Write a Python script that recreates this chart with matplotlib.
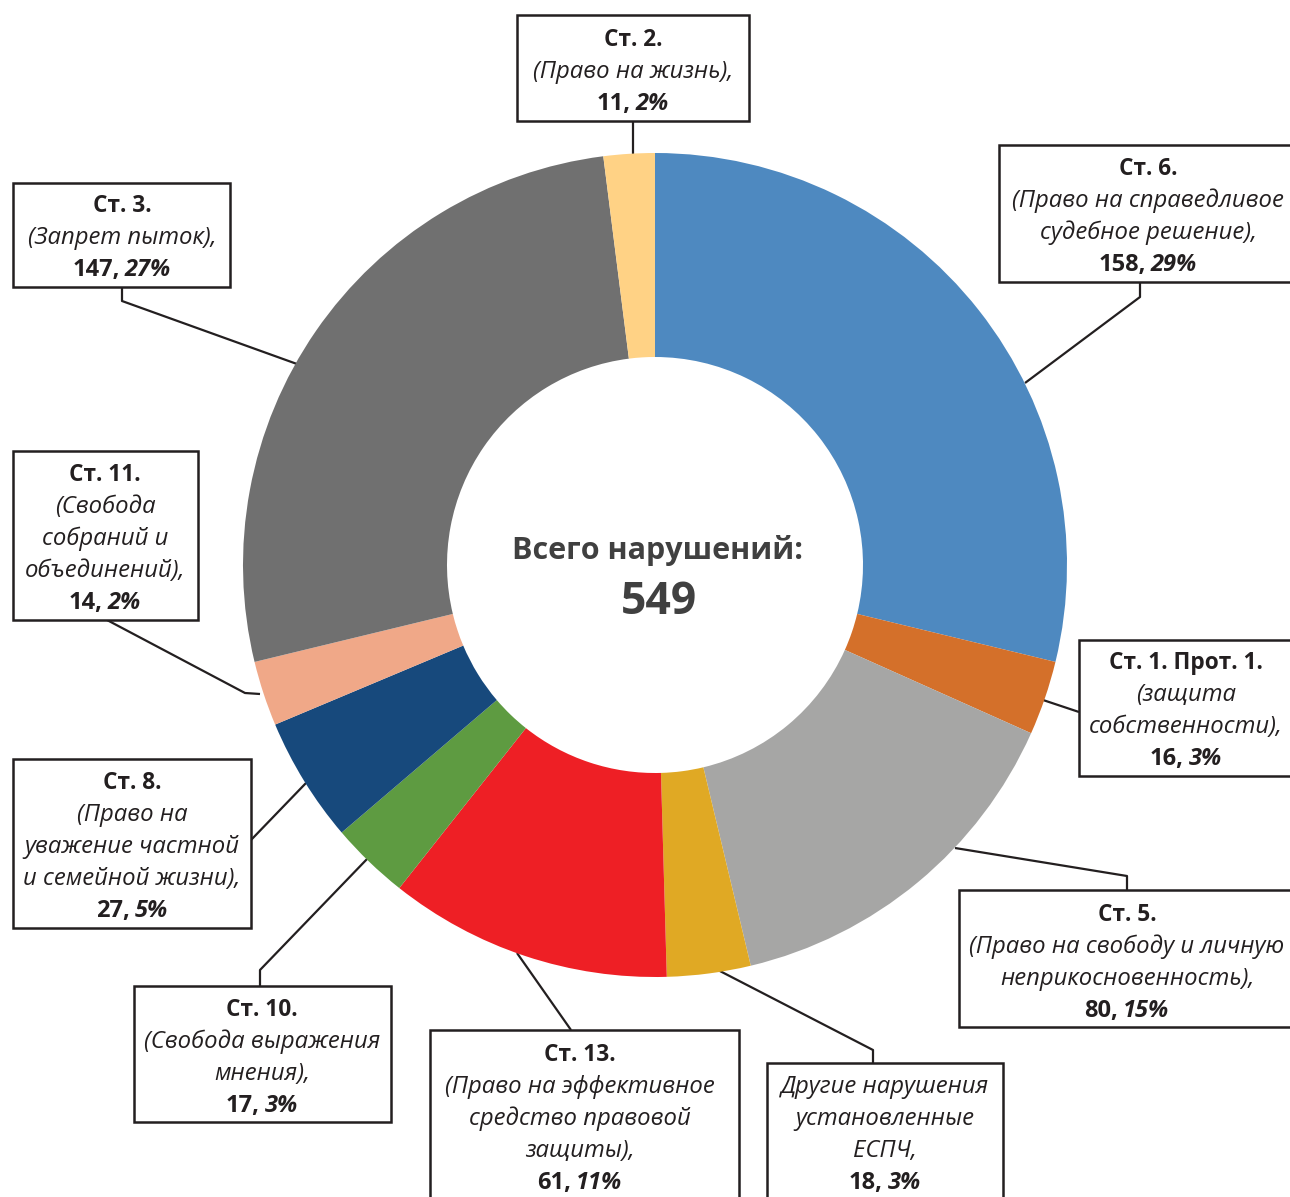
import matplotlib
matplotlib.use("Agg")
import matplotlib.pyplot as plt
from matplotlib.patches import Rectangle

# ---------------- data ----------------
headers = ["Ст. 6.", "Ст. 1. Прот. 1.", "Ст. 5.", "", "Ст. 13.",
           "Ст. 10.", "Ст. 8.", "Ст. 11.", "Ст. 3.", "Ст. 2."]
descriptions = [
    ["(Право на справедливое", "судебное решение),"],
    ["(защита", "собственности),"],
    ["(Право на свободу и личную", "неприкосновенность),"],
    ["Другие нарушения", "установленные", "ЕСПЧ,"],
    ["(Право на эффективное", "средство правовой", "защиты),"],
    ["(Свобода выражения", "мнения),"],
    ["(Право на", "уважение частной", "и семейной жизни),"],
    ["(Свобода", "собраний и", "объединений),"],
    ["(Запрет пыток),"],
    ["(Право на жизнь),"],
]
values = [158, 16, 80, 18, 61, 17, 27, 14, 147, 11]
pct_labels = ["29%", "3%", "15%", "3%", "11%", "3%", "5%", "2%", "27%", "2%"]
colors = ["#4E89C0", "#D4702A", "#A6A6A5", "#E0A924", "#EE1F25",
          "#5E9B41", "#17497C", "#F0A888", "#707070", "#FFD285"]
total_title = "Всего нарушений:"

# ---------------- layout (pixel coordinates, y down) ----------------
W, H = 1290, 1197
CX, CY, R_OUT, R_IN = 655, 565, 412, 208
LINE = 32
# (x0, y0, x1, y1, text centre x, first baseline y)
boxes = [
    (999, 145, 1300, 282, 1148, 175),
    (1079, 640, 1300, 776, 1186, 669),
    (959, 890, 1300, 1027, 1127, 921),
    (767, 1063, 1003, 1210, 885, 1093),
    (430, 1030, 739, 1210, 580, 1061),
    (134, 986, 391, 1122, 262, 1016),
    (13, 759, 251, 928, 132, 789),
    (13, 451, 198, 620, 105, 481),
    (13, 183, 230, 287, 122, 212),
    (517, 15, 749, 121, 633, 46),
]
leaders = [
    [(1140, 282), (1140, 297), (1025, 383)],
    [(1079, 712), (1043, 700)],
    [(955, 848), (1127, 876), (1127, 890)],
    [(716, 969), (873, 1050), (873, 1063)],
    [(517, 953), (571, 1030)],
    [(368, 858), (260, 970), (260, 986)],
    [(306, 783), (251, 840)],
    [(260, 694), (245, 693), (107, 620)],
    [(297, 364), (122, 301), (122, 287)],
    [(633, 157), (633, 121)],
]

FONT = "Open Sans"
FS_B = 16.3
FS_I = 17.2
FS_V = 17
TXT = "#231F20"

fig = plt.figure(figsize=(W / 100, H / 100), dpi=100)
ax = fig.add_axes([0, 0, 1, 1])


def Y(y):
    return H - y


# leader lines
for pts in leaders:
    ax.plot([p[0] for p in pts], [Y(p[1]) for p in pts], color=TXT, lw=1.6,
            zorder=1, solid_capstyle="butt")

# donut
ax.pie(values, colors=colors, startangle=90, counterclock=False,
       radius=R_OUT, center=(CX, Y(CY)),
       wedgeprops=dict(width=R_OUT - R_IN, edgecolor="none", zorder=2))

ax.set_xlim(0, W)
ax.set_ylim(0, H)
ax.set_aspect("auto")
ax.axis("off")

renderer = fig.canvas.get_renderer()
px_per_pt = 100 / 72

for i, (x0, y0, x1, y1, tx, by) in enumerate(boxes):
    ax.add_patch(Rectangle((x0, Y(y1)), x1 - x0, y1 - y0, facecolor="white",
                           edgecolor=TXT, lw=1.8, zorder=3, clip_on=True))
    y = by
    if headers[i]:
        ax.text(tx, Y(y), headers[i], ha="center", va="baseline", fontsize=FS_B,
                fontweight="bold", family=FONT, color=TXT, zorder=4)
        y += LINE
    for line in descriptions[i]:
        ax.text(tx, Y(y), line, ha="center", va="baseline", fontsize=FS_I,
                style="italic", family=FONT, color=TXT, zorder=4)
        y += LINE
    t1 = ax.text(0, Y(y), f"{values[i]},", ha="left", va="baseline", fontsize=FS_V,
                 fontweight="bold", family=FONT, color=TXT, zorder=4)
    t2 = ax.text(0, Y(y), pct_labels[i], ha="left", va="baseline", fontsize=FS_V,
                 fontweight="bold", style="italic", family=FONT, color=TXT, zorder=4)
    w1 = t1.get_window_extent(renderer).width
    w2 = t2.get_window_extent(renderer).width
    gap = 0.2 * FS_V * px_per_pt
    start = tx - (w1 + gap + w2) / 2
    t1.set_x(start)
    t2.set_x(start + w1 + gap)

# centre text
ax.text(CX + 2, Y(550), total_title, ha="center", va="center", fontsize=22,
        fontweight="bold", family=FONT, color="#404040", zorder=4)
ax.text(CX + 4, Y(603), str(sum(values)), ha="center", va="center", fontsize=32,
        fontweight="bold", family=FONT, color="#404040", zorder=4)

fig.savefig("out.png", dpi=100, facecolor="white")
